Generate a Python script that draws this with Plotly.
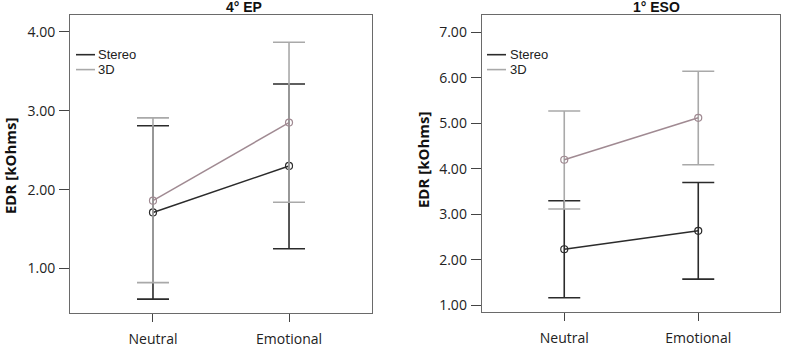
import plotly.graph_objects as go

categories = ["Neutral", "Emotional"]
series_names = ["Stereo", "3D"]

# Panel 1: 4° EP
ep_stereo_mean = [1.71, 2.30]
ep_stereo_hi = [2.81, 3.34]
ep_stereo_lo = [0.61, 1.25]
ep_3d_mean = [1.86, 2.85]
ep_3d_hi = [2.91, 3.87]
ep_3d_lo = [0.82, 1.84]

# Panel 2: 1° ESO
eso_stereo_mean = [2.235, 2.64]
eso_stereo_hi = [3.30, 3.70]
eso_stereo_lo = [1.17, 1.58]
eso_3d_mean = [4.20, 5.12]
eso_3d_hi = [5.27, 6.14]
eso_3d_lo = [3.12, 4.09]

ep_ticks = [1.0, 2.0, 3.0, 4.0]
eso_ticks = [1.0, 2.0, 3.0, 4.0, 5.0, 6.0, 7.0]

STEREO_COL = "#2b2b2b"
ERR3D_COL = "#a9a9a9"
LINE3D_COL = "#a08a92"

W, H = 785, 349
fig = go.Figure()

xpos = list(range(len(categories)))

def add_series(mean, hi, lo, xa, ya, line_col, err_col):
    fig.add_trace(go.Scatter(
        x=xpos, y=mean, mode="lines+markers", xaxis=xa, yaxis=ya,
        line=dict(color=line_col, width=1.5),
        marker=dict(symbol="circle-open", size=7, color=line_col, line=dict(width=1.2)),
        error_y=dict(type="data", symmetric=False,
                     array=[h - m for h, m in zip(hi, mean)],
                     arrayminus=[m - l for m, l in zip(mean, lo)],
                     color=err_col, thickness=1.6, width=16),
        showlegend=False, hoverinfo="skip"))

add_series(ep_stereo_mean, ep_stereo_hi, ep_stereo_lo, "x", "y", STEREO_COL, STEREO_COL)
add_series(ep_3d_mean, ep_3d_hi, ep_3d_lo, "x", "y", LINE3D_COL, ERR3D_COL)
add_series(eso_stereo_mean, eso_stereo_hi, eso_stereo_lo, "x2", "y2", STEREO_COL, STEREO_COL)
add_series(eso_3d_mean, eso_3d_hi, eso_3d_lo, "x2", "y2", LINE3D_COL, ERR3D_COL)

tickfont = dict(family="Open Sans", size=14, color="#222")
frame = dict(showline=True, linecolor="#6a6a6a", linewidth=1, mirror=True,
             showgrid=False, zeroline=False, ticks="outside", tickcolor="#444",
             tickfont=tickfont)

def px_x(p):
    return p / W

def px_y(p):
    return 1 - p / H

fig.update_layout(
    width=W, height=H,
    margin=dict(l=0, r=0, t=0, b=0),
    paper_bgcolor="white", plot_bgcolor="white",
    xaxis=dict(domain=[px_x(70), px_x(372)], range=[-0.61, 1.61],
               tickvals=xpos, ticktext=categories, ticklen=8, ticklabelstandoff=5, **frame),
    yaxis=dict(domain=[px_y(315), px_y(15.5)], range=[0.432, 4.21],
               tickvals=ep_ticks, ticktext=[f"{v:.2f}" for v in ep_ticks],
               ticklen=10, ticklabelstandoff=1, **frame),
    xaxis2=dict(domain=[px_x(481.7), px_x(780)], range=[-0.616, 1.61],
                tickvals=xpos, ticktext=categories, ticklen=8, ticklabelstandoff=5,
                anchor="y2", **frame),
    yaxis2=dict(domain=[px_y(314), px_y(15)], range=[0.854, 7.378],
                tickvals=eso_ticks, ticktext=[f"{v:.2f}" for v in eso_ticks],
                ticklen=10, ticklabelstandoff=1, anchor="x2", **frame),
)

ann = []
# titles
ann.append(dict(text="<b>4° EP</b>", x=px_x(244), y=px_y(7), xref="paper", yref="paper",
                xanchor="center", yanchor="middle",
                showarrow=False, font=dict(family="Liberation Sans", size=14, color="#111")))
ann.append(dict(text="<b>1° ESO</b>", x=px_x(656), y=px_y(7), xref="paper", yref="paper",
                xanchor="center", yanchor="middle",
                showarrow=False, font=dict(family="Liberation Sans", size=14, color="#111")))
# y titles
for xc, yc in [(10, 167), (423, 161)]:
    ann.append(dict(text="<b>EDR [kOhms]</b>", x=px_x(xc), y=px_y(yc), xref="paper", yref="paper",
                    xanchor="center", yanchor="middle",
                    textangle=-90, showarrow=False,
                    font=dict(family="Open Sans", size=15, color="#111")))

# legends (manual)
shapes = []
leg_cols = [STEREO_COL, ERR3D_COL]
for x0, x1, tx in [(76, 95, 96), (487, 506, 508)]:
    for i, (name, col) in enumerate(zip(series_names, leg_cols)):
        yy = 55 + i * 15
        shapes.append(dict(type="line", xref="paper", yref="paper",
                           x0=px_x(x0), x1=px_x(x1), y0=px_y(yy), y1=px_y(yy),
                           line=dict(color=col, width=1.6)))
        ann.append(dict(text=name, x=px_x(tx), y=px_y(yy), xref="paper", yref="paper",
                        xanchor="left", yanchor="middle", showarrow=False,
                        font=dict(family="Liberation Sans", size=13, color="#222")))

fig.update_layout(annotations=ann, shapes=shapes)
fig.write_html("out.html", config={"displayModeBar": False},
               post_script="document.body.style.margin='0px';document.body.style.padding='0px';")
